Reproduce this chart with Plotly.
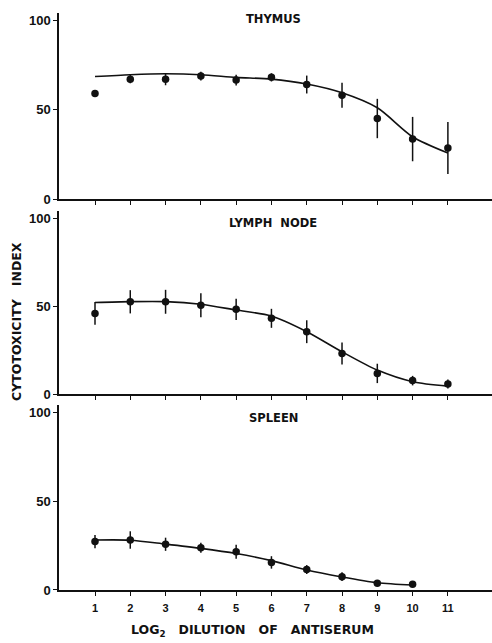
import plotly.graph_objects as go

dilution = [1, 2, 3, 4, 5, 6, 7, 8, 9, 10, 11]
x_tick_labels = ["1", "2", "3", "4", "5", "6", "7", "8", "9", "10", "11"]
y_ticks = [0, 50, 100]

thymus_mean = [59, 67, 67, 68.7, 66.5, 68, 64, 58, 45, 33.5, 28.5]
thymus_err = [2, 2.3, 3.4, 2.5, 3, 2.3, 5, 7, 11, 12.4, 14.5]
thymus_fit = [68.5, 69.5, 70, 69.5, 68, 67, 64.3, 59.4, 51, 34.8, 25.7]

lymph_mean = [45.8, 52.4, 52.4, 50.4, 48.1, 43, 35.4, 23, 11.7, 7.6, 5.7]
lymph_err = [6.5, 6.6, 6.8, 6.8, 6, 5.4, 6.5, 6.3, 5.5, 2.7, 2.6]
lymph_fit = [52, 52.5, 52.5, 51, 47.7, 44.3, 35.4, 24, 13.6, 7, 4.5]

spleen_x = [1, 2, 3, 4, 5, 6, 7, 8, 9, 10]
spleen_mean = [27.2, 28.1, 25.7, 23.8, 21.5, 15.5, 11.5, 7.5, 3.8, 3.2]
spleen_err = [3.7, 4.9, 3.7, 2.8, 4, 3.5, 2.5, 2.5, 1.5, 1.5]
spleen_fit = [28.1, 28, 25.8, 23.4, 20.5, 16.5, 11.2, 7.3, 4.1, 2.8]

panels = [
    ("THYMUS", dilution, thymus_mean, thymus_err, thymus_fit),
    ("LYMPH\u00a0\u00a0NODE", dilution, lymph_mean, lymph_err, lymph_fit),
    ("SPLEEN", spleen_x, spleen_mean, spleen_err, spleen_fit),
]

INK = "#111111"
fig = go.Figure()

# pixel geometry -> paper domains (plot area 590 px tall)
domains = [[0.6627, 0.978], [0.3322, 0.6424], [0.0, 0.3136]]
title_y = [19, 223, 418]

for i, (name, xs, mean, err, fit) in enumerate(panels):
    n = i + 1
    xa = "x" if n == 1 else f"x{n}"
    ya = "y" if n == 1 else f"y{n}"
    fig.add_trace(go.Scatter(
        x=xs, y=fit, mode="lines", xaxis=xa, yaxis=ya,
        line=dict(color=INK, width=1.6, shape="spline", smoothing=0.8),
        showlegend=False, hoverinfo="skip"))
    fig.add_trace(go.Scatter(
        x=xs, y=mean, mode="markers", xaxis=xa, yaxis=ya,
        marker=dict(color=INK, size=7.5, symbol="circle"),
        error_y=dict(type="data", array=err, visible=True, color=INK,
                     thickness=1.5, width=0),
        showlegend=False))
    xkey = "xaxis" if n == 1 else f"xaxis{n}"
    ykey = "yaxis" if n == 1 else f"yaxis{n}"
    fig.layout[xkey] = dict(
        range=[-0.02, 12.25], anchor=ya, domain=[0, 1],
        tickvals=dilution, ticktext=x_tick_labels,
        showticklabels=(n == 3), ticks="outside", ticklen=4, tickwidth=1.2,
        tickcolor=INK, showline=True, linecolor=INK, linewidth=1.5,
        showgrid=False, zeroline=False, ticklabelstandoff=3,
        tickfont=dict(family="Liberation Sans", size=11, color=INK, weight="bold"))
    fig.layout[ykey] = dict(
        range=[0, 104], domain=domains[i], anchor=xa,
        tickvals=y_ticks, ticks="outside", ticklen=4, tickwidth=1.2,
        tickcolor=INK, showline=True, linecolor=INK, linewidth=1.5,
        showgrid=False, zeroline=False,
        tickfont=dict(family="Liberation Sans", size=13, color=INK, weight="bold"))
    fig.add_annotation(
        text=name, xref="paper", yref="paper",
        x=(273 - 59) / 433, y=(590 - title_y[i]) / 590,
        xanchor="center", yanchor="middle", showarrow=False,
        font=dict(family="DejaVu Sans", size=11.5, color=INK, weight="bold"))

fig.add_annotation(
    text="CYTOTOXICITY\u00a0\u00a0\u00a0INDEX", xref="paper", yref="paper",
    x=(16 - 59) / 433, y=(590 - 322) / 590, textangle=-90,
    xanchor="center", yanchor="middle", showarrow=False,
    font=dict(family="DejaVu Sans", size=12.5, color=INK, weight="bold"))

fig.add_annotation(
    text="LOG<sub>2</sub>\u00a0\u00a0\u00a0DILUTION\u00a0\u00a0\u00a0OF\u00a0\u00a0\u00a0ANTISERUM",
    xref="paper", yref="paper",
    x=(252 - 59) / 433, y=(590 - 630) / 590,
    xanchor="center", yanchor="middle", showarrow=False,
    font=dict(family="DejaVu Sans", size=12.5, color=INK, weight="bold"))

fig.update_layout(
    width=492, height=643,
    margin=dict(l=59, r=0, t=0, b=53),
    paper_bgcolor="white", plot_bgcolor="white",
)

fig.write_html("out.html")
